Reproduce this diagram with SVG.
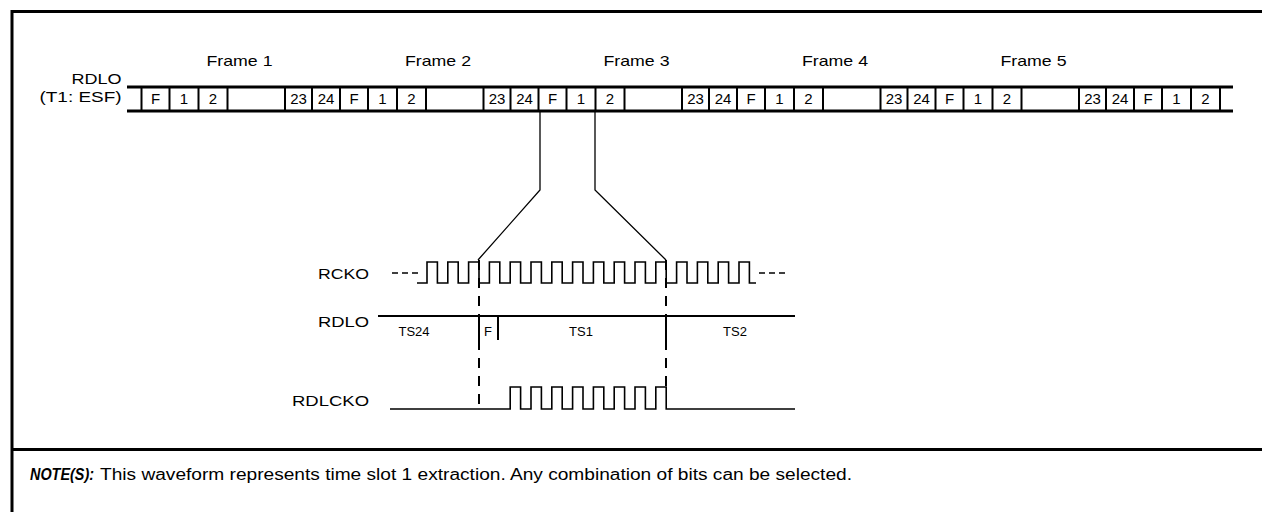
<svg xmlns="http://www.w3.org/2000/svg" width="1262" height="512" viewBox="0 0 1262 512">
<style>
text{font-family:"Liberation Sans",Arial,sans-serif;fill:#000}
.lbl{font-size:15px}
.box{font-size:15px;text-anchor:middle}
.ts{font-size:13px;text-anchor:middle}
.thick{stroke:#000;stroke-width:3;fill:none}
.tick{stroke:#000;stroke-width:2;fill:none}
.wave{stroke:#000;stroke-width:1.6;fill:none}
.dash{stroke:#000;stroke-width:2;stroke-dasharray:10,8;fill:none}
.dots{stroke:#000;stroke-width:1.6;stroke-dasharray:6,4;fill:none}
.conn{stroke:#000;stroke-width:1.3;fill:none}
</style>
<rect width="1262" height="512" fill="#fff"/>
<g id="border">
<path class="thick" d="M12,512 V11.5 H1262"/>
<path class="thick" d="M12,449.5 H1262"/>
</g>
<g id="frame-labels" class="lbl" text-anchor="middle">
<text x="239.5" y="66" textLength="66" lengthAdjust="spacingAndGlyphs">Frame 1</text>
<text x="438" y="66" textLength="66" lengthAdjust="spacingAndGlyphs">Frame 2</text>
<text x="636.5" y="66" textLength="66" lengthAdjust="spacingAndGlyphs">Frame 3</text>
<text x="835" y="66" textLength="66" lengthAdjust="spacingAndGlyphs">Frame 4</text>
<text x="1033.5" y="66" textLength="66" lengthAdjust="spacingAndGlyphs">Frame 5</text>
</g>
<g id="rdlo-bus">
<text class="lbl" x="121.5" y="84" text-anchor="end" textLength="50" lengthAdjust="spacingAndGlyphs">RDLO</text>
<text class="lbl" x="121.5" y="102" text-anchor="end" textLength="82" lengthAdjust="spacingAndGlyphs">(T1: ESF)</text>
<path class="thick" d="M127,87 H1233 M127,111 H1233"/>
<path class="tick" d="M141.5,88V110 M169.5,88V110 M198.5,88V110 M227.5,88V110
M285,88V110 M312,88V110 M340,88V110 M368,88V110 M397,88V110 M426,88V110
M483.5,88V110 M510.5,88V110 M538.5,88V110 M566.5,88V110 M595.5,88V110 M624.5,88V110
M682,88V110 M709,88V110 M737,88V110 M765,88V110 M794,88V110 M823,88V110
M880.5,88V110 M907.5,88V110 M935.5,88V110 M963.5,88V110 M992.5,88V110 M1021.5,88V110
M1079,88V110 M1106,88V110 M1134,88V110 M1162,88V110 M1191,88V110 M1220,88V110"/>
<g class="box">
<text x="155.5" y="104">F</text><text x="184" y="104">1</text><text x="213" y="104">2</text>
<text x="298.5" y="104">23</text><text x="326" y="104">24</text><text x="354" y="104">F</text><text x="382.5" y="104">1</text><text x="411.5" y="104">2</text>
<text x="497" y="104">23</text><text x="524.5" y="104">24</text><text x="552.5" y="104">F</text><text x="581" y="104">1</text><text x="610" y="104">2</text>
<text x="695.5" y="104">23</text><text x="723" y="104">24</text><text x="751" y="104">F</text><text x="779.5" y="104">1</text><text x="808.5" y="104">2</text>
<text x="894" y="104">23</text><text x="921.5" y="104">24</text><text x="949.5" y="104">F</text><text x="978" y="104">1</text><text x="1007" y="104">2</text>
<text x="1092.5" y="104">23</text><text x="1120" y="104">24</text><text x="1148" y="104">F</text><text x="1176.5" y="104">1</text><text x="1205.5" y="104">2</text>
</g>
</g>
<g id="connectors">
<polyline class="conn" points="540,112 540,190 478,260"/>
<polyline class="conn" points="595,112 595,190 666,260"/>
<path class="dash" d="M479,260 V316 M479,340 V412 M666,260 V316 M666,340 V390"/>
</g>
<g id="rcko">
<text class="lbl" x="369" y="279" text-anchor="end" textLength="51" lengthAdjust="spacingAndGlyphs">RCKO</text>
<path class="dots" d="M392,273 H418 M759,273 H786"/>
<path class="wave" d="M417,283 H427 V262 H437.4 V283 H447.8 V262 H458.2 V283 H468.6 V262 H479 V283 H489.4 V262 H499.8 V283 H510.2 V262 H520.6 V283 H531 V262 H541.4 V283 H551.8 V262 H562.2 V283 H572.6 V262 H583 V283 H593.4 V262 H603.8 V283 H614.2 V262 H624.6 V283 H635 V262 H645.4 V283 H655.8 V262 H666.2 V283 H676.6 V262 H687 V283 H697.4 V262 H707.8 V283 H718.2 V262 H728.6 V283 H739 V262 H749.4 V283 H756"/>
</g>
<g id="rdlo-detail">
<text class="lbl" x="369" y="327" text-anchor="end" textLength="51" lengthAdjust="spacingAndGlyphs">RDLO</text>
<path class="tick" d="M378,316 H795"/>
<path class="tick" d="M479,316 V340 M498,316 V340 M666,316 V340"/>
<text class="ts" x="414" y="336">TS24</text>
<text class="ts" x="488" y="336">F</text>
<text class="ts" x="581" y="336">TS1</text>
<text class="ts" x="735" y="336">TS2</text>
</g>
<g id="rdlcko">
<text class="lbl" x="369" y="406" text-anchor="end" textLength="77" lengthAdjust="spacingAndGlyphs">RDLCKO</text>
<path class="wave" d="M390,409 H510.2 V387 H520.6 V409 H531 V387 H541.4 V409 H551.8 V387 H562.2 V409 H572.6 V387 H583 V409 H593.4 V387 H603.8 V409 H614.2 V387 H624.6 V409 H635 V387 H645.4 V409 H655.8 V387 H666.2 V409 H795"/>
</g>
<g id="note">
<text x="30" y="480" font-size="16"><tspan font-weight="bold" font-style="italic" textLength="64" lengthAdjust="spacingAndGlyphs">NOTE(S):</tspan><tspan x="100" textLength="752" lengthAdjust="spacingAndGlyphs">This waveform represents time slot 1 extraction. Any combination of bits can be selected.</tspan></text>
</g>
</svg>
